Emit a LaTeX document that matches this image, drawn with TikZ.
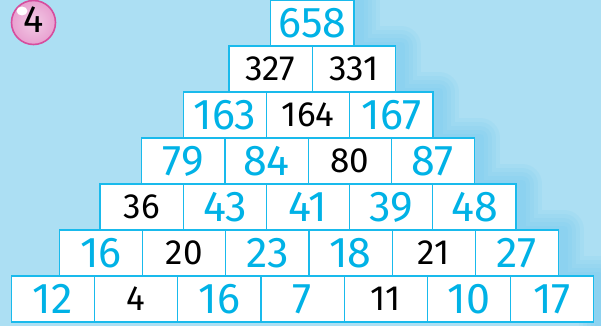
\documentclass[tikz,border=0pt]{standalone}
\usepackage{fontspec}
\setmainfont{Fira Sans}

\definecolor{bgblue}{RGB}{172,223,243}
\definecolor{glowblue}{RGB}{105,198,240}
\definecolor{numcyan}{RGB}{0,178,230}
\definecolor{boxcyan}{RGB}{25,186,236}
\definecolor{badgepink}{RGB}{232,160,208}
\definecolor{badgerim}{RGB}{214,78,158}

\tikzset{
    cell/.style={draw=boxcyan, fill=white, line width=1.2pt,
        minimum width=83.2pt, minimum height=46pt, inner sep=0pt},
    given/.style={text=numcyan, font=\fontsize{43}{43}\selectfont},
    found/.style={text=black, font=\fontsize{35}{35}\selectfont},
}

\begin{document}
\begin{tikzpicture}[x=1pt, y=-1pt]
    \fill[bgblue] (0,0) rectangle (601,326);
    \useasboundingbox (0,0) rectangle (601,326);

    % soft glow along the right side of the pyramid
    \foreach \w in {40,32,...,8}
        \draw[glowblue, opacity=0.11, line width=\w pt, line join=round]
            (360,0) |- (401,46) |- (439,92) |- (480,138) |- (522,184)
            |- (564,230) |- (599,276) -- (599,326);

    % number badge
    \node[circle, draw=badgerim, line width=1.6pt, minimum size=44pt,
          inner color=badgepink!55!white, outer color=badgepink] (badge) at (33.5,22.5) {};
    \fill[white] (22,11) ellipse (5.5 and 4.5);
    \node[font=\fontsize{38}{38}\selectfont] (badgenum) at (34,20) {4};

    % row 1
    \foreach \v/\s [count=\i from 0] in {658/given}
        \node[cell, \s] (r1-\i) at (312.3+83.2*\i, 23) {\v};
    % row 2
    \foreach \v/\s [count=\i from 0] in {327/found, 331/found}
        \node[cell, \s] (r2-\i) at (270.6+83.2*\i, 69) {\v};
    % row 3
    \foreach \v/\s [count=\i from 0] in {163/given, 164/found, 167/given}
        \node[cell, \s] (r3-\i) at (224.9+83.2*\i, 115) {\v};
    % row 4
    \foreach \v/\s [count=\i from 0] in {79/given, 84/given, 80/found, 87/given}
        \node[cell, \s] (r4-\i) at (183.3+83.2*\i, 161) {\v};
    % row 5
    \foreach \v/\s [count=\i from 0] in {36/found, 43/given, 41/given, 39/given, 48/given}
        \node[cell, \s] (r5-\i) at (141.6+83.2*\i, 207) {\v};
    % row 6
    \foreach \v/\s [count=\i from 0] in {16/given, 20/found, 23/given, 18/given, 21/found, 27/given}
        \node[cell, \s] (r6-\i) at (100.9+83.2*\i, 253) {\v};
    % row 7
    \foreach \v/\s [count=\i from 0] in {12/given, 4/found, 16/given, 7/given, 11/found, 10/given, 17/given}
        \node[cell, \s] (r7-\i) at (52.9+83.2*\i, 299) {\v};
\end{tikzpicture}
\end{document}
